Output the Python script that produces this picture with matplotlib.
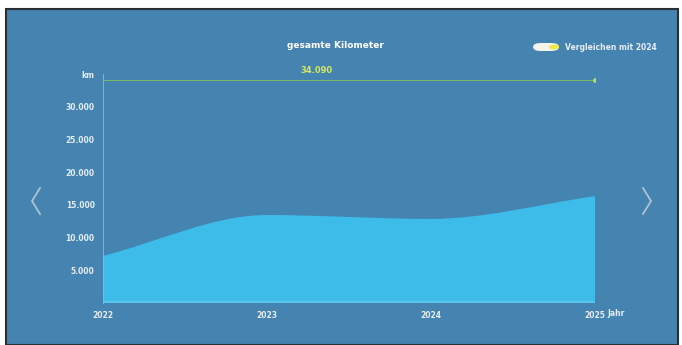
import numpy as np
import matplotlib
matplotlib.use("Agg")
import matplotlib.pyplot as plt
from matplotlib.path import Path
from matplotlib.patches import PathPatch, Rectangle, FancyBboxPatch, Circle
from matplotlib.lines import Line2D

# ---- data ----
years = ["2022", "2023", "2024", "2025"]
km_values = [7200, 13450, 12850, 16330]
total_km = 34090
ytick_values = [5000, 10000, 15000, 20000, 25000, 30000]
ytick_labels = ["5.000", "10.000", "15.000", "20.000", "25.000", "30.000"]
title = "gesamte Kilometer"
legend_label = "Vergleichen mit 2024"
unit_label = "km"
xunit_label = "Jahr"

BG = "#4583b0"
AREA = "#3dbbe9"
TXT = "#e6edf2"

W, H = 682, 345
fig = plt.figure(figsize=(W / 100, H / 100), dpi=100)
fig.patch.set_facecolor("white")
# panel with dark frame
fig.add_artist(Rectangle((6 / W, 0), (678 - 6) / W, (H - 9) / H, transform=fig.transFigure,
                         facecolor=BG, edgecolor="#2a2f33", linewidth=1.5, zorder=-10))

ax = fig.add_axes([103 / W, 1 - 303 / H, (595 - 103) / W, (303 - 74) / H])
ax.set_facecolor("none")
x = np.arange(len(years))
y = np.array(km_values, dtype=float)

# monotone (Fritsch-Carlson) tangents for smooth bezier path
d = np.diff(y) / np.diff(x)
m = np.zeros_like(y)
m[0], m[-1] = d[0], d[-1]
for i in range(1, len(y) - 1):
    if d[i - 1] * d[i] <= 0:
        m[i] = 0
    else:
        m[i] = 2 / (1 / d[i - 1] + 1 / d[i])
verts = [(x[0], 0), (x[0], y[0])]
codes = [Path.MOVETO, Path.LINETO]
for i in range(len(y) - 1):
    h = x[i + 1] - x[i]
    verts += [(x[i] + h / 3, y[i] + m[i] * h / 3),
              (x[i + 1] - h / 3, y[i + 1] - m[i + 1] * h / 3),
              (x[i + 1], y[i + 1])]
    codes += [Path.CURVE4] * 3
verts += [(x[-1], 0), (x[0], 0)]
codes += [Path.LINETO, Path.CLOSEPOLY]
ax.add_patch(PathPatch(Path(verts, codes), facecolor=AREA, edgecolor="none"))
ax.axhline(150, color="#55c3ec", linewidth=2.5)

ax.set_xlim(x[0], x[-1])
ax.set_ylim(0, 35000)

# total line
ax.plot([x[0], x[-1]], [total_km, total_km], color="#78b86a", linewidth=0.8)
ax.plot([x[-1]], [total_km], marker="o", markersize=2.5, color="#b8dc5a")
ax.text((x[0] + x[-1]) / 2 - 0.2, total_km + 700, f"{total_km:,}".replace(",", "."),
        color="#d8e85a", fontsize=6, fontweight="bold", ha="center", va="bottom")

for s in ["top", "right", "bottom"]:
    ax.spines[s].set_visible(False)
ax.spines["left"].set_color("#8fb8d4")
ax.spines["left"].set_linewidth(0.6)
ax.set_yticks(ytick_values + [35000])
ax.set_yticklabels(ytick_labels + [unit_label])
ax.set_xticks(x)
ax.set_xticklabels(years)
ax.tick_params(axis="both", length=0, colors=TXT, labelsize=5.5, pad=6)
for lab in ax.get_yticklabels() + ax.get_xticklabels():
    lab.set_fontweight("bold")
ax.text(1.0 + 12 / (595 - 103), -0.048, xunit_label, transform=ax.transAxes, color=TXT,
        fontsize=5.5, fontweight="bold", ha="left", va="center")

# title
fig.text(335 / W, 1 - 46 / H, title, color="white", fontsize=6.5, fontweight="bold",
         ha="center", va="center")
# legend toggle
fig.add_artist(FancyBboxPatch((533 / W, 1 - 51 / H), 26 / W, 8 / H, transform=fig.transFigure,
                              boxstyle="round,pad=0,rounding_size=0.0115", facecolor="#f4f4ea",
                              edgecolor="none"))
fig.add_artist(Circle((554 / W, 1 - 47 / H), 5 / W, transform=fig.transFigure,
                      facecolor="#f2e84a", edgecolor="none"))
fig.text(565 / W, 1 - 47 / H, legend_label, color=TXT, fontsize=5.5, fontweight="bold",
         ha="left", va="center")

# navigation chevrons
def px(xp, yp):
    return [v / W for v in xp], [1 - v / H for v in yp]
lx, ly = px([40, 32, 40], [188, 201, 214])
rx, ry = px([643, 651, 643], [188, 201, 214])
for a, b in [(lx, ly), (rx, ry)]:
    fig.add_artist(Line2D(a, b, transform=fig.transFigure, color="#aec3d3", linewidth=1.3,
                          solid_joinstyle="miter"))

fig.savefig("out.png", dpi=100, facecolor=fig.get_facecolor())
